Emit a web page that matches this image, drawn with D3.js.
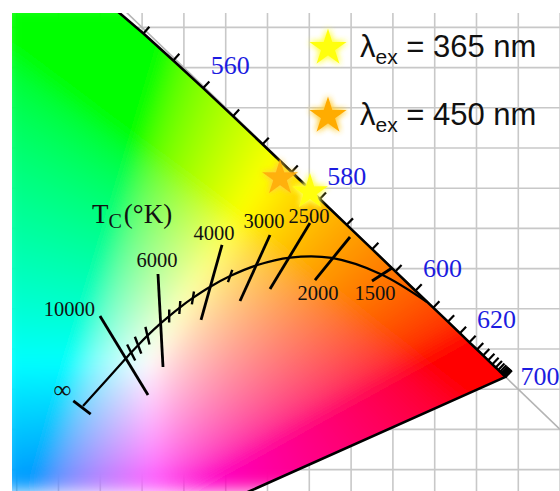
<!DOCTYPE html>
<html>
<head>
<meta charset="utf-8">
<script src="https://cdn.jsdelivr.net/npm/d3@7"></script>
<style>
  html, body { margin: 0; padding: 0; background: #fff; }
  svg { display: block; }
</style>
</head>
<body>
<svg id="chart" width="560" height="491"></svg>
<script>
// CIE 1931 spectral locus, 380..700 nm every 5 nm
const wavelengths = d3.range(380, 701, 5);
const locusX = [0.1741,0.1740,0.1738,0.1736,0.1733,0.1730,0.1726,0.1721,0.1714,0.1703,0.1689,0.1669,0.1644,0.1611,0.1566,0.1510,0.1440,0.1355,0.1241,0.1096,0.0913,0.0687,0.0454,0.0235,0.0082,0.0039,0.0139,0.0389,0.0743,0.1142,0.1547,0.1929,0.2296,0.2658,0.3016,0.3373,0.3731,0.4087,0.4441,0.4788,0.5125,0.5448,0.5752,0.6029,0.6270,0.6482,0.6658,0.6801,0.6915,0.7006,0.7079,0.7140,0.7190,0.7230,0.7260,0.7283,0.7300,0.7311,0.7320,0.7327,0.7334,0.7340,0.7344,0.7346,0.7347];
const locusY = [0.0050,0.0050,0.0049,0.0049,0.0048,0.0048,0.0048,0.0048,0.0051,0.0058,0.0069,0.0086,0.0109,0.0138,0.0177,0.0227,0.0297,0.0399,0.0578,0.0868,0.1327,0.2007,0.2950,0.4127,0.5384,0.6548,0.7502,0.8120,0.8338,0.8262,0.8059,0.7816,0.7543,0.7243,0.6923,0.6589,0.6245,0.5896,0.5547,0.5202,0.4866,0.4544,0.4242,0.3965,0.3725,0.3514,0.3340,0.3197,0.3083,0.2993,0.2920,0.2859,0.2809,0.2770,0.2740,0.2717,0.2700,0.2689,0.2680,0.2673,0.2666,0.2660,0.2656,0.2654,0.2653];
const tickWavelengths = d3.range(545, 701, 5);
const labelWavelengths = [560, 580, 600, 620, 700];

// Planckian locus
const planckT = [Infinity, 10000, 9000, 8000, 7000, 6000, 5500, 5000, 4500, 4000, 3500, 3000, 2500, 2000, 1500, 1100];
const planckX = [0.2293, 0.2807, 0.2869, 0.2952, 0.3064, 0.3221, 0.3324, 0.3451, 0.3608, 0.3805, 0.4053, 0.4369, 0.4770, 0.5267, 0.5857, 0.6408];
const planckY = [0.2291, 0.2884, 0.2956, 0.3048, 0.3166, 0.3318, 0.3410, 0.3516, 0.3635, 0.3768, 0.3907, 0.4041, 0.4137, 0.4133, 0.3931, 0.3585];

// labelled isotherms: end 1 / end 2
const isoLabels = ["∞", "10000", "6000", "4000", "3000", "2500", "2000", "1500"];
const isoT  = [Infinity, 10000, 6000, 4000, 3000, 2500, 2000, 1500];
const isoX1 = [0.2177, 0.2496, 0.3190, 0.3956, 0.4530, 0.5008, 0.5487, 0.5989];
const isoY1 = [0.2356, 0.3410, 0.3933, 0.4294, 0.4418, 0.4567, 0.4393, 0.4007];
const isoX2 = [0.2385, 0.3071, 0.3250, 0.3705, 0.4171, 0.4530, 0.5068, 0.5750];
const isoY2 = [0.2189, 0.2428, 0.2776, 0.3361, 0.3597, 0.3746, 0.3858, 0.3846];
const minorT = [9000, 8000, 7000, 5500, 5000, 4500, 3500];

// measured emission points
const excitation = ["365", "450"];
const emissionX = [0.5008, 0.4650];
const emissionY = [0.4953, 0.5127];

const gridX = d3.range(0.15, 0.81, 0.05);
const gridY = d3.range(0.15, 0.76, 0.05);

const width = 560, height = 491;
const frame = {left: 12, top: 13, right: 560, bottom: 491};

const x = d3.scaleLinear().domain([0, 1]).range([-108.7, 727.3]);
const y = d3.scaleLinear().domain([0, 1]).range([590.2, -213.8]);

const svg = d3.select('#chart');
const defs = svg.append('defs');

defs.append('clipPath').attr('id', 'frame')
  .append('rect')
  .attr('x', frame.left).attr('y', frame.top)
  .attr('width', frame.right - frame.left).attr('height', frame.bottom - frame.top);

const locusPts = wavelengths.map((w, i) => [x(locusX[i]), y(locusY[i])]);
const polyPath = 'M' + locusPts.map(p => p.join(',')).join('L') + 'Z';

defs.append('clipPath').attr('id', 'gamut')
  .append('path').attr('d', polyPath);

defs.append('filter').attr('id', 'soft')
  .attr('x', 0).attr('y', 0).attr('width', 1).attr('height', 1)
  .append('feGaussianBlur').attr('stdDeviation', 9).attr('edgeMode', 'duplicate');

function glow(id, colour, sd) {
  const f = defs.append('filter').attr('id', id)
    .attr('x', '-60%').attr('y', '-60%').attr('width', '220%').attr('height', '220%');
  f.append('feGaussianBlur').attr('in', 'SourceAlpha').attr('stdDeviation', sd).attr('result', 'b');
  f.append('feFlood').attr('flood-color', colour);
  f.append('feComposite').attr('in2', 'b').attr('operator', 'in').attr('result', 'g');
  const m = f.append('feMerge');
  m.append('feMergeNode').attr('in', 'g');
  m.append('feMergeNode').attr('in', 'g');
  m.append('feMergeNode').attr('in', 'SourceGraphic');
}
glow('glowY', '#ffff50', 3.2);
glow('glowO', '#ffd040', 3.2);

const plot = svg.append('g').attr('clip-path', 'url(#frame)');

// grid
plot.append('g').selectAll('line.gx')
  .data(gridX).enter().append('line')
  .attr('x1', d => x(d)).attr('x2', d => x(d))
  .attr('y1', frame.top).attr('y2', frame.bottom)
  .style('stroke', '#c8c8c8').style('stroke-width', 1.6);
plot.append('g').selectAll('line.gy')
  .data(gridY).enter().append('line')
  .attr('y1', d => y(d)).attr('y2', d => y(d))
  .attr('x1', frame.left).attr('x2', frame.right)
  .style('stroke', '#c8c8c8').style('stroke-width', 1.6);

// x + y = 1 line
plot.append('line')
  .attr('x1', x(0.2)).attr('y1', y(0.8))
  .attr('x2', x(0.85)).attr('y2', y(0.15))
  .style('stroke', '#b4b4b4').style('stroke-width', 1.6);

// chromaticity colours (white shifted slightly down, as in the picture)
function toRGB(cx, cy) {
  cx += 0.005; cy += 0.045;
  const X = cx / cy, Y = 1, Z = (1 - cx - cy) / cy;
  let r = 3.2406 * X - 1.5372 * Y - 0.4986 * Z;
  let g = -0.9689 * X + 1.8758 * Y + 0.0415 * Z;
  let b = 0.0557 * X - 0.2040 * Y + 1.0570 * Z;
  r = Math.max(r, 0); g = Math.max(g, 0); b = Math.max(b, 0);
  const m = Math.max(r, g, b) || 1;
  const gam = v => { v /= m; return 255 * (v <= 0.0031308 ? 12.92 * v : 1.055 * Math.pow(v, 1 / 2.4) - 0.055); };
  return [gam(r), gam(g), gam(b)];
}
const canvas = document.createElement('canvas');
canvas.width = width; canvas.height = height;
const ctx = canvas.getContext('2d');
const img = ctx.createImageData(width, height);
for (let py = 0; py < height; py++) {
  for (let px = 0; px < width; px++) {
    const cx = x.invert(px + 0.5), cy = Math.max(y.invert(py + 0.5), 0.02);
    const c = toRGB(cx, cy);
    const k = (py * width + px) * 4;
    img.data[k] = c[0]; img.data[k + 1] = c[1]; img.data[k + 2] = c[2]; img.data[k + 3] = 255;
  }
}
ctx.putImageData(img, 0, 0);
plot.append('g').attr('clip-path', 'url(#gamut)')
  .append('image')
  .attr('href', canvas.toDataURL())
  .attr('width', width).attr('height', height)
  .attr('filter', 'url(#soft)');

// locus outline
plot.append('path').attr('d', polyPath)
  .style('fill', 'none').style('stroke', '#000').style('stroke-width', 2.6)
  .style('stroke-linejoin', 'round');

// wavelength ticks, pointing outward
const whiteP = [x(0.3127), y(0.329)];
function locusAt(w) { const i = wavelengths.indexOf(w); return locusPts[i]; }
const ticks = tickWavelengths.map(w => {
  const a = locusAt(Math.max(w - 10, 380)), b = locusAt(Math.min(w + 10, 700)), p = locusAt(w);
  let tx = b[0] - a[0], ty = b[1] - a[1];
  const n = Math.hypot(tx, ty); tx /= n; ty /= n;
  let nx = -ty, ny = tx;
  if ((p[0] - whiteP[0]) * nx + (p[1] - whiteP[1]) * ny < 0) { nx = -nx; ny = -ny; }
  return {p, nx, ny};
});
plot.append('g').selectAll('line')
  .data(ticks).enter().append('line')
  .attr('x1', d => d.p[0]).attr('y1', d => d.p[1])
  .attr('x2', d => d.p[0] + d.nx * 9).attr('y2', d => d.p[1] + d.ny * 9)
  .style('stroke', '#000').style('stroke-width', 2.2);

// wavelength labels
svg.append('g').selectAll('text')
  .data(labelWavelengths).enter().append('text')
  .attr('x', d => locusAt(d)[0] + (d === 700 ? 15 : 27))
  .attr('y', d => locusAt(d)[1] + (d === 700 ? 8.5 : -14))
  .attr('text-anchor', d => d === 700 ? 'start' : 'middle')
  .style('font-family', '"Liberation Serif", "DejaVu Serif", serif')
  .style('font-size', '26px')
  .style('fill', '#1c1ce0')
  .text(d => d);

// Planckian locus
const planck = svg.append('g');
const line = d3.line().x(d => x(d[0])).y(d => y(d[1])).curve(d3.curveCatmullRom);
planck.append('path')
  .attr('d', line(planckX.map((v, i) => [v, planckY[i]])))
  .style('fill', 'none').style('stroke', '#000').style('stroke-width', 2.2);

planck.selectAll('line.iso')
  .data(isoT).enter().append('line')
  .attr('x1', (d, i) => x(isoX1[i])).attr('y1', (d, i) => y(isoY1[i]))
  .attr('x2', (d, i) => x(isoX2[i])).attr('y2', (d, i) => y(isoY2[i]))
  .style('stroke', '#000').style('stroke-width', 2.8);

// minor isotherm ticks: direction interpolated between labelled isotherms
const isoDir = isoT.map((t, i) => {
  const dx = x(isoX2[i]) - x(isoX1[i]), dy = y(isoY2[i]) - y(isoY1[i]);
  return Math.atan2(dy, dx);
});
const minor = minorT.map(t => {
  const i = planckT.indexOf(t);
  let hi = 1; while (isoT[hi + 1] > t) hi++;
  const f = (1e6 / t - 1e6 / isoT[hi]) / (1e6 / isoT[hi + 1] - 1e6 / isoT[hi]);
  const ang = isoDir[hi] + f * (isoDir[hi + 1] - isoDir[hi]);
  const half = t >= 7000 ? 9 : 6.5;
  const cx = x(planckX[i]), cy = y(planckY[i]);
  return {x1: cx - Math.cos(ang) * half, y1: cy - Math.sin(ang) * half,
          x2: cx + Math.cos(ang) * half, y2: cy + Math.sin(ang) * half};
});
planck.selectAll('line.minor')
  .data(minor).enter().append('line')
  .attr('x1', d => d.x1).attr('y1', d => d.y1)
  .attr('x2', d => d.x2).attr('y2', d => d.y2)
  .style('stroke', '#000').style('stroke-width', 2.4);

// isotherm labels
const labelLayout = {
  "∞":     {end: 1, dx: -11, dy: -3, anchor: 'middle', size: 25},
  "10000": {end: 1, dx: -5, dy: 0, anchor: 'end', size: 20.5},
  "6000":  {end: 1, dx: -1, dy: -7, anchor: 'middle', size: 20.5},
  "4000":  {end: 1, dx: -8, dy: -5, anchor: 'middle', size: 20.5},
  "3000":  {end: 1, dx: -6, dy: -7, anchor: 'middle', size: 20.5},
  "2500":  {end: 1, dx: -1, dy: 0, anchor: 'middle', size: 20.5},
  "2000":  {end: 2, dx: 3, dy: 20, anchor: 'middle', size: 20.5},
  "1500":  {end: 2, dx: 3, dy: 19, anchor: 'middle', size: 20.5}
};
planck.selectAll('text')
  .data(isoLabels).enter().append('text')
  .attr('x', (d, i) => x(labelLayout[d].end === 1 ? isoX1[i] : isoX2[i]) + labelLayout[d].dx)
  .attr('y', (d, i) => y(labelLayout[d].end === 1 ? isoY1[i] : isoY2[i]) + labelLayout[d].dy)
  .attr('text-anchor', d => labelLayout[d].anchor)
  .style('font-family', '"Liberation Serif", "DejaVu Serif", serif')
  .style('font-size', d => labelLayout[d].size + 'px')
  .style('fill', '#111')
  .text(d => d);

// Tc(°K) title
const tc = svg.append('text')
  .attr('x', 92).attr('y', 223)
  .style('font-family', '"Liberation Serif", "DejaVu Serif", serif')
  .style('font-size', '27px').style('fill', '#111');
tc.append('tspan').text('T');
tc.append('tspan').attr('dy', 5).style('font-size', '20px').text('C');
tc.append('tspan').attr('dy', -5).attr('dx', 2).text('(°K)');

// emission points
const star = d3.symbol().type(d3.symbolStar);
const starFill = ['#ffff10', '#ffac00'];
const starGlow = ['url(#glowY)', 'url(#glowO)'];
const order = [1, 0];
svg.append('g').selectAll('path')
  .data(order).enter().append('path')
  .attr('d', star.size(400)())
  .attr('transform', i => `translate(${x(emissionX[i])},${y(emissionY[i])})`)
  .style('fill', i => starFill[i])
  .style('fill-opacity', i => i === 1 ? 0.9 : 1)
  .attr('filter', i => starGlow[i]);

// legend
const legend = svg.append('g').selectAll('g')
  .data(excitation).enter().append('g')
  .attr('transform', (d, i) => `translate(328,${48 + i * 68})`);
legend.append('path')
  .attr('d', star.size(430)())
  .style('fill', (d, i) => starFill[i])
  .attr('filter', (d, i) => starGlow[i]);
const lt = legend.append('text')
  .attr('x', 32).attr('y', 9)
  .style('font-family', '"Liberation Sans", Arial, sans-serif')
  .style('font-size', '31px').style('fill', '#111');
lt.append('tspan').text('λ');
lt.append('tspan').attr('dy', 7).style('font-size', '21px').text('ex');
lt.append('tspan').attr('dy', -7).text(d => ` = ${d} nm`);
</script>
</body>
</html>
